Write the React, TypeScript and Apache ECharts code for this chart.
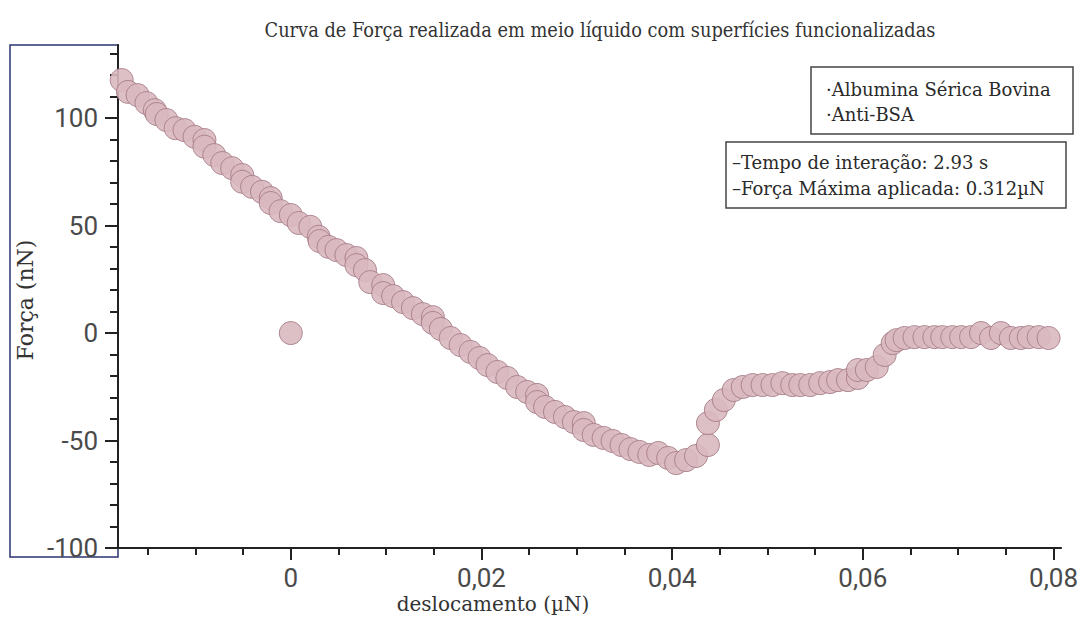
import React, { useEffect, useRef } from "react";
import * as echarts from "echarts";

const titleText = "Curva de Força realizada em meio líquido com superfícies funcionalizadas";
const xAxisTitle = "deslocamento (µN)";
const yAxisTitle = "Força (nN)";
const legendLines1 = ["·Albumina Sérica Bovina", "·Anti-BSA"];
const legendLines2 = ["–Tempo de interação: 2.93 s", "–Força Máxima aplicada: 0.312µN"];

const xMajorTicks = [0, 0.02, 0.04, 0.06, 0.08];
const xMinorTicks = [-0.015, -0.01, -0.005, 0.005, 0.01, 0.015, 0.025, 0.03, 0.035, 0.045, 0.05, 0.055, 0.065, 0.07, 0.075];
const yMajorTicks = [-100, -50, 0, 50, 100];
const yMinorTicks = [-90, -80, -70, -60, -40, -30, -20, -10, 10, 20, 30, 40, 60, 70, 80, 90, 110, 120, 130];

// displacement values
const displacement = [
  -0.01774, -0.01708, -0.01607, -0.01514, -0.01427, -0.01406, -0.01305, -0.01208, -0.01115, -0.0101,
  -0.00906, -0.00906, -0.00802, -0.00719, -0.00615, -0.0051, -0.0051, -0.00406, -0.00302, -0.00211,
  -0.00211, -0.00107, 0.0, 0.00083, 0.00205, 0.00292, 0.00302, 0.00396, 0.00479, 0.00583,
  0.00688, 0.00688, 0.00778, 0.00833, 0.00969, 0.00969, 0.01073, 0.01177, 0.01281, 0.01385,
  0.0149, 0.0149, 0.01573, 0.01677, 0.01781, 0.01885, 0.01979, 0.02063, 0.02167, 0.02271,
  0.02375, 0.02479, 0.02583, 0.02583, 0.02667, 0.02771, 0.02875, 0.02969, 0.03073, 0.03073,
  0.03177, 0.03281, 0.03375, 0.03469, 0.03563, 0.03656, 0.0376, 0.03854, 0.03958, 0.04042,
  0.04146, 0.0425, 0.04375, 0.04375, 0.04458, 0.04542, 0.04646, 0.0474, 0.04844, 0.04948,
  0.05052, 0.05156, 0.0526, 0.05344, 0.05448, 0.05552, 0.05656, 0.0574, 0.05844, 0.05948,
  0.05948, 0.06042, 0.06146, 0.06229, 0.06313, 0.06354, 0.06438, 0.06542, 0.06646, 0.0675,
  0.06833, 0.06938, 0.07031, 0.07135, 0.0724, 0.07344, 0.07448, 0.07552, 0.07656, 0.0774,
  0.07844, 0.07948, 0.0,
];
// force values (nN)
const force = [
  117.7, 112.2, 110.7, 107.0, 103.7, 101.9, 99.1, 95.3, 94.4, 91.3,
  89.8, 86.7, 82.8, 79.1, 76.7, 73.5, 70.4, 68.0, 65.7, 62.8,
  60.5, 56.7, 54.9, 51.2, 49.4, 44.8, 42.8, 40.1, 38.6, 36.3,
  34.9, 31.6, 29.3, 23.7, 22.3, 18.6, 17.2, 14.4, 11.6, 8.8,
  7.4, 4.7, 1.9, -2.3, -5.6, -8.8, -11.6, -14.9, -18.1, -20.9,
  -25.1, -27.4, -28.8, -32.1, -34.4, -36.7, -39.1, -41.4, -41.9, -45.1,
  -47.4, -48.8, -50.2, -52.1, -54.0, -55.3, -56.7, -55.8, -58.1, -60.5,
  -59.1, -57.2, -52.1, -41.9, -35.8, -31.2, -26.5, -25.1, -24.2, -24.2,
  -24.2, -23.3, -24.2, -24.2, -24.2, -23.3, -22.8, -21.9, -21.9, -20.9,
  -17.2, -17.2, -15.8, -10.2, -4.7, -3.3, -2.3, -1.9, -1.9, -1.9,
  -1.9, -1.9, -1.9, -1.9, 0.0, -2.3, 0.0, -2.3, -2.3, -1.9,
  -1.9, -2.3, 0.0,
];

const X_MIN = -0.018125;
const X_MAX = 0.0808;
const Y_MIN = -100;
const Y_MAX = 134;

export default function App() {
  const ref = useRef<HTMLDivElement>(null);
  useEffect(() => {
    if (!ref.current) return;
    const chart = echarts.init(ref.current, undefined, { renderer: "svg" });
    const data = displacement.map((x, i) => [x, force[i]]);
    const serif = '"DejaVu Serif", "Liberation Serif", serif';
    const labelStyle = { color: "#4a4a4a", fontSize: 26, fontFamily: "Roboto, sans-serif" };
    chart.setOption({
      animation: false,
      backgroundColor: "#fff",
      grid: { left: 118, right: 13, top: 45, bottom: 69, containLabel: false },
      xAxis: [
        {
          type: "value",
          min: X_MIN,
          max: X_MAX,
          splitLine: { show: false },
          axisLine: { show: true, onZero: false, lineStyle: { color: "#222", width: 2 } },
          axisTick: { show: true, customValues: xMajorTicks, length: 12, lineStyle: { color: "#222", width: 2 } },
          axisLabel: {
            ...labelStyle,
            margin: 17,
            customValues: xMajorTicks,
            formatter: (v: number) => String(Math.round(v * 1000) / 1000).replace(".", ","),
          },
        },
        {
          type: "value",
          min: X_MIN,
          max: X_MAX,
          position: "bottom",
          splitLine: { show: false },
          axisLine: { show: false, onZero: false },
          axisTick: { show: true, customValues: xMinorTicks, length: 7, lineStyle: { color: "#222", width: 2 } },
          axisLabel: { show: false },
        },
      ],
      yAxis: [
        {
          type: "value",
          min: Y_MIN,
          max: Y_MAX,
          splitLine: { show: false },
          axisLine: { show: true, onZero: false, lineStyle: { color: "#222", width: 2 } },
          axisTick: { show: true, customValues: yMajorTicks, length: 13, lineStyle: { color: "#222", width: 2 } },
          axisLabel: { ...labelStyle, margin: 20, customValues: yMajorTicks },
        },
        {
          type: "value",
          min: Y_MIN,
          max: Y_MAX,
          position: "left",
          splitLine: { show: false },
          axisLine: { show: false, onZero: false },
          axisTick: { show: true, customValues: yMinorTicks, length: 8, lineStyle: { color: "#222", width: 2 } },
          axisLabel: { show: false },
        },
      ],
      series: [
        {
          type: "scatter",
          xAxisIndex: 0,
          yAxisIndex: 0,
          data,
          symbol: "circle",
          symbolSize: 23,
          itemStyle: { color: "#d9b8c0", borderColor: "#a87e89", borderWidth: 1, opacity: 0.9 },
        },
      ],
      graphic: [
        {
          type: "rect",
          shape: { x: 10, y: 45, width: 108, height: 512 },
          style: { fill: "none", stroke: "#2c3570", lineWidth: 1.5 },
        },
        {
          type: "text",
          x: 600,
          y: 30,
          scaleX: 0.89,
          style: { text: titleText, font: `20px ${serif}`, fill: "#333", align: "center", verticalAlign: "middle" },
        },
        {
          type: "text",
          x: 25,
          y: 300,
          rotation: Math.PI / 2,
          style: { text: yAxisTitle, font: `22px ${serif}`, fill: "#333", align: "center", verticalAlign: "middle" },
        },
        {
          type: "text",
          x: 493,
          y: 604,
          style: { text: xAxisTitle, font: `20px ${serif}`, fill: "#333", align: "center", verticalAlign: "middle" },
        },
        {
          type: "rect",
          shape: { x: 811, y: 67, width: 262, height: 67 },
          style: { fill: "#fff", stroke: "#444", lineWidth: 1.5 },
        },
        {
          type: "text",
          x: 826,
          y: 89,
          style: { text: legendLines1[0], font: `18px ${serif}`, fill: "#2a2a2a", align: "left", verticalAlign: "middle" },
        },
        {
          type: "text",
          x: 826,
          y: 114,
          style: { text: legendLines1[1], font: `18px ${serif}`, fill: "#2a2a2a", align: "left", verticalAlign: "middle" },
        },
        {
          type: "rect",
          shape: { x: 726, y: 142, width: 340, height: 66 },
          style: { fill: "#fff", stroke: "#444", lineWidth: 1.5 },
        },
        {
          type: "text",
          x: 732,
          y: 162,
          style: { text: legendLines2[0], font: `18px ${serif}`, fill: "#2a2a2a", align: "left", verticalAlign: "middle" },
        },
        {
          type: "text",
          x: 732,
          y: 188,
          style: { text: legendLines2[1], font: `18px ${serif}`, fill: "#2a2a2a", align: "left", verticalAlign: "middle" },
        },
      ],
    });
    return () => chart.dispose();
  }, []);
  return <div ref={ref} style={{ position: "fixed", left: 0, top: 0, width: 1081, height: 617 }} />;
}
